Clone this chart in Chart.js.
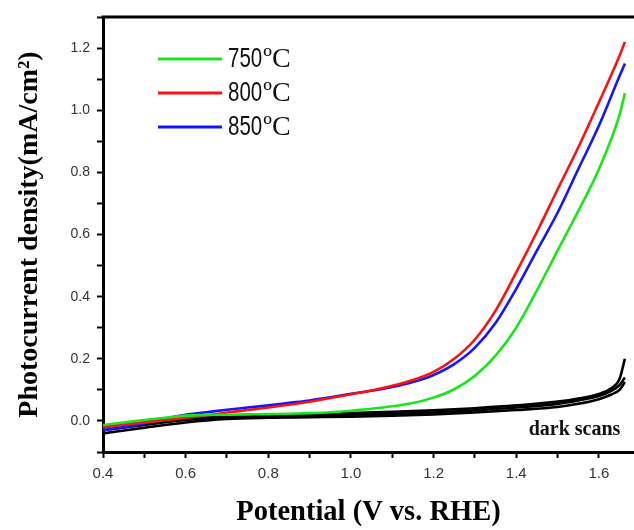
<!DOCTYPE html>
<html>
<head>
<meta charset="utf-8">
<script src="https://cdn.jsdelivr.net/npm/chart.js@4/dist/chart.umd.min.js"></script>
<style>
html,body{margin:0;padding:0;background:#fff;}
#wrap{width:634px;height:530px;position:relative;}
</style>
</head>
<body>
<div id="wrap"><canvas id="c" width="634" height="530"></canvas></div>
<script>
// ---- data ----
const potential = [0.40,0.45,0.50,0.55,0.60,0.65,0.70,0.75,0.80,0.85,0.90,0.95,1.00,1.05,1.10,1.15,1.20,1.25,1.30,1.35,1.40,1.45,1.50,1.55,1.60,1.65,1.663];
const j750 = [-0.013,-0.005,0.003,0.01,0.017,0.019,0.02,0.021,0.022,0.023,0.025,0.028,0.033,0.039,0.047,0.058,0.075,0.102,0.145,0.21,0.3,0.42,0.548,0.675,0.81,0.985,1.055];
const j800 = [-0.02,-0.012,-0.005,0.002,0.01,0.018,0.027,0.035,0.043,0.052,0.062,0.074,0.086,0.098,0.113,0.132,0.158,0.2,0.262,0.355,0.478,0.608,0.745,0.88,1.025,1.175,1.22];
const j850 = [-0.03,-0.02,-0.008,0.008,0.02,0.028,0.036,0.043,0.05,0.058,0.066,0.076,0.087,0.097,0.109,0.125,0.148,0.183,0.236,0.315,0.425,0.548,0.67,0.81,0.95,1.11,1.15];
const darkPotential = [0.4,0.5,0.6,0.7,0.8,0.9,1.0,1.1,1.2,1.3,1.4,1.5,1.55,1.6,1.63,1.65,1.663];
const darkA = [-0.04,-0.022,-0.005,0.006,0.01,0.012,0.014,0.017,0.021,0.027,0.035,0.045,0.055,0.07,0.085,0.1,0.125];
const darkB = [-0.02,-0.004,0.01,0.016,0.019,0.022,0.025,0.029,0.034,0.041,0.05,0.062,0.072,0.087,0.105,0.135,0.2];
const darkC = [-0.03,-0.013,0.003,0.012,0.015,0.017,0.02,0.023,0.027,0.034,0.043,0.055,0.066,0.08,0.097,0.115,0.14];
const seriesLabels = ['750','800','850'];
const unitLabel = '\u00BAC';
const xMajorTicks = [0.4,0.6,0.8,1.0,1.2,1.4,1.6];
const xAllTicks = [0.4,0.5,0.6,0.7,0.8,0.9,1.0,1.1,1.2,1.3,1.4,1.5,1.6];
const yMajorTicks = [0.0,0.2,0.4,0.6,0.8,1.0,1.2];
const yAllTicks = [-0.1,0.0,0.1,0.2,0.3,0.4,0.5,0.6,0.7,0.8,0.9,1.0,1.1,1.2,1.3];
const xTitle = 'Potential (V vs. RHE)';
const yTitle = 'Photocurrent density(mA/cm\u00B2)';
const darkLabel = 'dark scans';

const pts = (xs, ys) => xs.map((x, i) => ({x: x, y: ys[i]}));
const isMajor = (v, list) => list.some(m => Math.abs(m - v) < 1e-6);

const mk = (label, xs, ys, color) => ({
  label: label, data: pts(xs, ys), borderColor: color, backgroundColor: color,
  borderWidth: 2.6, pointRadius: 0, fill: false, cubicInterpolationMode: 'monotone'
});

const extras = {
  id: 'extras',
  afterDraw(chart) {
    const ctx = chart.ctx, a = chart.chartArea;
    ctx.save();
    // top frame line
    ctx.strokeStyle = '#000'; ctx.lineWidth = 3;
    ctx.beginPath(); ctx.moveTo(a.left - 1.5, a.top); ctx.lineTo(a.right, a.top); ctx.stroke();
    // legend
    const items = chart.data.datasets.slice(0, 3);
    const ys = [59, 93, 127];
    items.forEach((ds, i) => {
      const y = ys[i];
      ctx.strokeStyle = ds.borderColor; ctx.lineWidth = 3;
      ctx.beginPath(); ctx.moveTo(158, y); ctx.lineTo(222, y); ctx.stroke();
      ctx.fillStyle = '#111'; ctx.textBaseline = 'middle'; ctx.textAlign = 'left';
      ctx.font = '27px "Liberation Sans", Arial, sans-serif';
      const w = ctx.measureText(ds.label).width * 0.76;
      ctx.save();
      ctx.translate(228, y + 1);
      ctx.scale(0.76, 1);
      ctx.fillText(ds.label, 0, 0);
      ctx.restore();
      ctx.font = '28px "Liberation Serif", "Times New Roman", serif';
      ctx.fillText(unitLabel, 228 + w + 1, y + 1);
    });
    // dark scans annotation
    const xs = chart.scales.x, yS = chart.scales.y;
    ctx.font = 'bold 20px "Liberation Serif", "Times New Roman", serif';
    ctx.fillStyle = '#111'; ctx.textAlign = 'right'; ctx.textBaseline = 'middle';
    ctx.fillText(darkLabel, xs.getPixelForValue(1.652), yS.getPixelForValue(-0.029));
    ctx.restore();
  }
};

new Chart(document.getElementById('c'), {
  type: 'line',
  data: {
    datasets: [
      mk(seriesLabels[0], potential, j750, '#19e619'),
      mk(seriesLabels[1], potential, j800, '#ff1010'),
      mk(seriesLabels[2], potential, j850, '#1414ff'),
      mk('darkA', darkPotential, darkA, '#000'),
      mk('darkC', darkPotential, darkC, '#000'),
      mk('darkB', darkPotential, darkB, '#000')
    ]
  },
  options: {
    responsive: false, animation: false,
    layout: {padding: {top: 17, right: 0, left: 0, bottom: 0}},
    plugins: {legend: {display: false}, tooltip: {enabled: false}},
    scales: {
      x: {
        type: 'linear', min: 0.4, max: 1.685,
        afterBuildTicks: s => { s.ticks = xAllTicks.map(v => ({value: v})); },
        afterFit: s => { s.height = 78; },
        ticks: {
          autoSkip: false, maxRotation: 0, padding: 7, color: '#333',
          font: {family: '"Liberation Sans", Arial, sans-serif', size: 15},
          callback: v => isMajor(v, xMajorTicks) ? v.toFixed(1) : ''
        },
        grid: {drawOnChartArea: false, drawTicks: true, tickLength: 6, tickWidth: 2, tickColor: '#000'},
        border: {display: true, color: '#000', width: 3},
        title: {display: true, text: xTitle, color: '#000',
          font: {family: '"Liberation Serif", "Times New Roman", serif', size: 28.5, weight: 'bold'},
          padding: {top: 0, bottom: 0}}
      },
      y: {
        type: 'linear', min: -0.1, max: 1.3,
        afterBuildTicks: s => { s.ticks = yAllTicks.map(v => ({value: v})); },
        afterFit: s => { s.width = 103; },
        ticks: {
          autoSkip: false, padding: 7, color: '#333',
          font: {family: '"Liberation Sans", Arial, sans-serif', size: 14},
          callback: v => isMajor(v, yMajorTicks) ? v.toFixed(1) : ''
        },
        grid: {drawOnChartArea: false, drawTicks: true, tickLength: 6, tickWidth: 2, tickColor: '#000'},
        border: {display: true, color: '#000', width: 3},
        title: {display: true, text: yTitle, color: '#000',
          font: {family: '"Liberation Serif", "Times New Roman", serif', size: 28, weight: 'bold'},
          padding: {top: 13, bottom: 0}}
      }
    }
  },
  plugins: [extras]
});
</script>
</body>
</html>
